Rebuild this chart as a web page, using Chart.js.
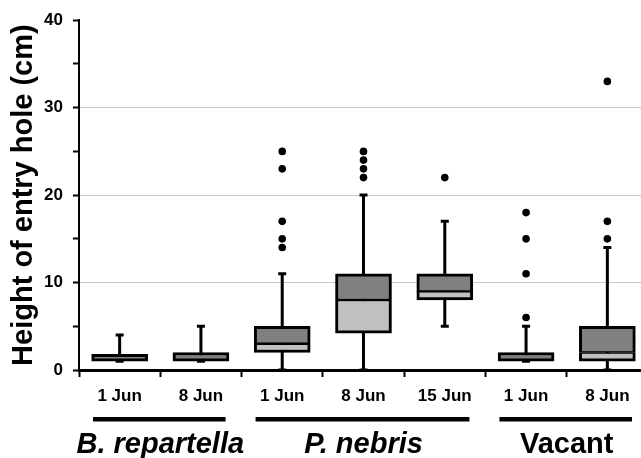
<!DOCTYPE html>
<html>
<head>
<meta charset="utf-8">
<script src="https://cdn.jsdelivr.net/npm/chart.js@4.4.0/dist/chart.umd.min.js"></script>
<style>
  body { margin: 0; overflow: hidden; background: #fff; }
  #wrap { position: relative; width: 655px; height: 458px; }
</style>
</head>
<body>
<div id="wrap"><canvas id="boxChart"></canvas></div>
<script>
const labels = ["1 Jun", "8 Jun", "1 Jun", "8 Jun", "15 Jun", "1 Jun", "8 Jun"];
const groups = ["B. repartella", "P. nebris", "Vacant"];
const groupSizes = [2, 3, 2];
const groupItalic = [true, true, false];

const mins = [1, 1, 0, 0, 5, 1, 0];
const q1s = [1, 1, 2, 4.2, 8, 1, 1];
const medians = [1, 1, 3, 8, 9, 1, 2];
const q3s = [1.8, 2, 5, 11, 11, 2, 5];
const maxs = [4, 5, 11, 20, 17, 5, 14];
const outliers = [[], [], [25, 23, 17, 15, 14], [25, 24, 23, 22], [22], [18, 15, 11, 6], [33, 17, 15]];

const yTicks = [0, 10, 20, 30, 40];

const FONT = "'Liberation Sans', Arial, sans-serif";

// group bars + names under the date labels
const groupPlugin = {
  id: "groupLabels",
  afterDraw(chart) {
    const x = chart.scales.x;
    const ctx = chart.ctx;
    const half = (x.getPixelForValue(1) - x.getPixelForValue(0)) / 2;
    let start = 0;
    groups.forEach((name, g) => {
      const end = start + groupSizes[g] - 1;
      const left = x.getPixelForValue(start) - half;
      const right = x.getPixelForValue(end) + half;
      ctx.save();
      ctx.fillStyle = "#000";
      ctx.fillRect(left + 14, x.top + 47, right - left - 30, 4.5);
      ctx.font = (groupItalic[g] ? "italic " : "") + "bold 29px " + FONT;
      ctx.textAlign = "center";
      ctx.textBaseline = "alphabetic";
      ctx.fillText(name, (left + right) / 2, x.top + 83);
      ctx.restore();
      start = end + 1;
    });
  },
};

// one point dataset per outlier rank, null where a box has fewer
const maxOutliers = Math.max(...outliers.map((l) => l.length));
const outlierSets = [];
for (let k = 0; k < maxOutliers; k++) {
  outlierSets.push({
    type: "line",
    data: outliers.map((l) => (k < l.length ? l[k] : null)),
    showLine: false,
    pointRadius: 3.8,
    pointBorderWidth: 0,
    pointBackgroundColor: "#000",
    order: 0,
  });
}

const capStyle = {
  type: "line",
  showLine: false,
  pointStyle: "line",
  pointRadius: 4,
  pointBorderWidth: 3,
  borderColor: "#000",
  order: 0,
};

const ctx = document.getElementById("boxChart").getContext("2d");

new Chart(ctx, {
  type: "bar",
  data: {
    labels: labels,
    datasets: [
      {
        data: q1s.map((v, i) => [v, medians[i]]),
        backgroundColor: "#c0c0c0",
        borderColor: "#000",
        borderWidth: { top: 1.5, bottom: 3, left: 3, right: 3 },
        borderSkipped: false,
        barThickness: 56,
        grouped: false,
        order: 1,
      },
      {
        data: medians.map((v, i) => [v, q3s[i]]),
        backgroundColor: "#808080",
        borderColor: "#000",
        borderWidth: (c) => ({
          top: 3,
          bottom: medians[c.dataIndex] === q1s[c.dataIndex] ? 3 : 1.5,
          left: 3,
          right: 3,
        }),
        borderSkipped: false,
        barThickness: 56,
        grouped: false,
        order: 1,
      },
      {
        data: mins.map((v, i) => [v, maxs[i]]),
        backgroundColor: "#000",
        borderWidth: 0,
        barThickness: 3,
        grouped: false,
        inflateAmount: 0,
        order: 2,
      },
      Object.assign({ data: maxs }, capStyle),
      Object.assign({ data: mins }, capStyle),
      ...outlierSets,
    ],
  },
  options: {
    responsive: true,
    maintainAspectRatio: false,
    animation: false,
    layout: { padding: { top: 15, right: 2, left: 0, bottom: 0 } },
    plugins: {
      legend: { display: false },
      tooltip: { enabled: false },
    },
    scales: {
      x: {
        type: "category",
        ticks: {
          color: "#000",
          font: { family: FONT, size: 17, weight: "bold" },
          padding: 9,
          maxRotation: 0,
          autoSkip: false,
        },
        grid: {
          drawOnChartArea: false,
          offset: true,
          tickColor: "#000",
          tickLength: 7,
          tickWidth: 2,
        },
        border: { color: "#000", width: 3 },
        afterFit: (s) => {
          s.height = 88;
        },
      },
      y: {
        min: 0,
        max: 40,
        ticks: {
          stepSize: 5,
          color: "#000",
          font: { family: FONT, size: 17, weight: "bold" },
          padding: 10,
          callback: (v) => (yTicks.includes(v) ? v : ""),
        },
        grid: {
          color: (c) =>
            c.tick && c.tick.value % 10 === 0 && c.tick.value > 0 && c.tick.value < 40
              ? "#c8c8c8"
              : "rgba(0,0,0,0)",
          tickColor: "#000",
          tickLength: 6,
          tickWidth: 2,
          lineWidth: 1,
        },
        border: { color: "#000", width: 2 },
        title: {
          display: true,
          text: "Height of entry hole (cm)",
          color: "#000",
          font: { family: FONT, size: 29, weight: "bold" },
          padding: { top: 7, bottom: 0 },
        },
        afterFit: (s) => {
          s.width = 79;
        },
      },
    },
  },
  plugins: [groupPlugin],
});
</script>
</body>
</html>
